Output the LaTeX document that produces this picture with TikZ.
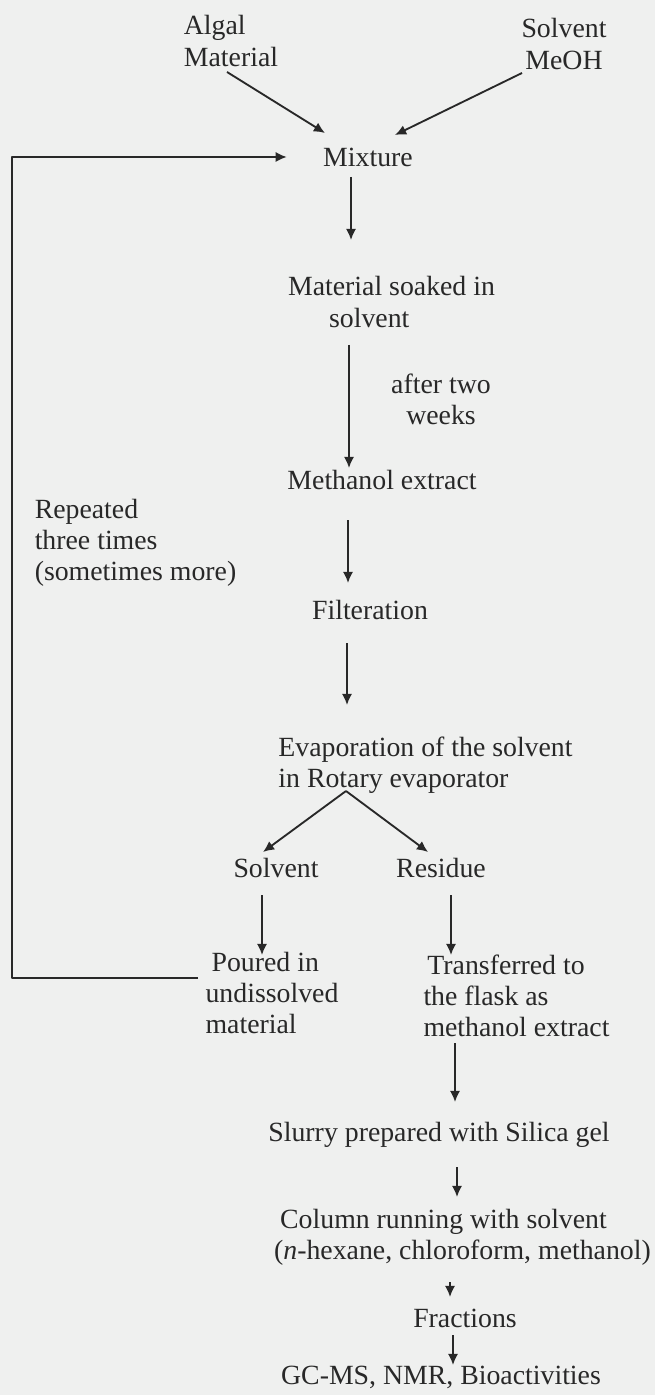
\documentclass[tikz,border=0pt]{standalone}
\usepackage{fontspec}
\setmainfont{Liberation Serif}
\usetikzlibrary{arrows.meta,calc}
\definecolor{paper}{RGB}{239,240,239}
\definecolor{ink}{RGB}{40,40,40}
\begin{document}
\begin{tikzpicture}[x=0.4317pt, y=-0.4317pt, font=\fontsize{12}{13.4}\selectfont, line join=round,
	txt/.style={inner sep=0pt, text=ink},
	arr/.style={draw=ink, line width=0.8pt, -{Latex[length=4.8pt,width=4.4pt]}}]
	\fill[paper] (0,0) rectangle (655,1395);
	\node[txt, align=left] (alg) at (231,41) {Algal\\Material};
	\node[txt, align=center] (meoh) at (564,44) {Solvent\\MeOH};
	\node[txt] (mix) at (368,157) {Mixture};
	\node[txt, align=left] (soak) at (391.5,302) {Material soaked in\\\hspace*{17.7pt}solvent};
	\node[txt, align=center] (weeks) at (441,399) {after two\\weeks};
	\node[txt] (meth) at (382,480) {Methanol extract};
	\node[txt, align=left] (rep) at (135.5,543) {Repeated\\three times\\(sometimes more)};
	\node[txt] (filt) at (370,610) {Filteration};
	\node[txt, align=left] (evap) at (425.5,765) {Evaporation of the solvent\\in Rotary evaporator};
	\node[txt] (solv) at (276,868) {Solvent};
	\node[txt] (res) at (441,868) {Residue};
	\node[txt, align=left] (pour) at (272,993) {\hspace*{2.6pt}Poured in\\undissolved\\material};
	\node[txt, align=left] (trans) at (516.5,996) {\hspace*{1.7pt}Transferred to\\the flask as\\methanol extract};
	\node[txt] (slurry) at (439,1135) {Slurry prepared with Silica gel};
	\node[txt, align=left] (col) at (462.5,1237) {\hspace*{2.6pt}Column running with solvent\\(\textit{n}-hexane, chloroform, methanol)};
	\node[txt] (frac) at (465,1318) {Fractions};
	\node[txt] (gc) at (441,1377) {GC-MS, NMR, Bioactivities};

	\draw[arr] ($(alg)+(-4,31)$) -- ($(mix)+(-43,-24)$);
	\draw[arr] ($(meoh)+(-42,29)$) -- ($(mix)+(27,-22)$);
	\draw[arr] ($(mix)+(-17,20)$) -- ($(soak)+(-40.5,-62)$);
	\draw[arr] ($(soak)+(-42.5,43)$) -- ($(meth)+(-33,-12)$);
	\draw[arr] ($(meth)+(-34,40)$) -- ($(filt)+(-22,-27)$);
	\draw[arr] ($(filt)+(-23,33)$) -- ($(evap)+(-78.5,-60)$);
	\draw[arr] ($(evap)+(-79.5,26)$) -- ($(solv)+(-13,-16)$);
	\draw[arr] ($(evap)+(-79.5,26)$) -- ($(res)+(-13,-16)$);
	\draw[arr] ($(solv)+(-14,27)$) -- ($(pour)+(-10,-38)$);
	\draw[arr] ($(res)+(10,27)$) -- ($(trans)+(-65.5,-41)$);
	\draw[arr] ($(trans)+(-61.5,47)$) -- ($(slurry)+(16,-33)$);
	\draw[arr] ($(slurry)+(18,32)$) -- ($(col)+(-5.5,-40)$);
	\draw[arr] ($(col)+(-12.5,45)$) -- ($(frac)+(-15,-21)$);
	\draw[arr] ($(frac)+(-12,17)$) -- ($(gc)+(12,-12)$);
	\draw[arr] ($(pour)+(-74,-15)$) -| ($(rep.west)+(-22,0)$) |- ($(mix.west)+(-36,0)$);
\end{tikzpicture}
\end{document}
